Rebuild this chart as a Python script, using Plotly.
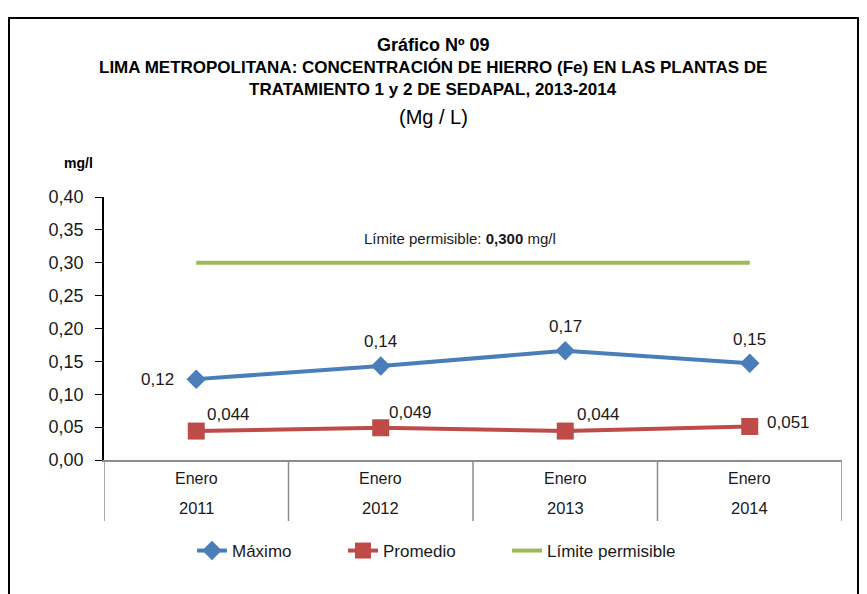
import plotly.graph_objects as go

# ---- data ----
categories = ["2011", "2012", "2013", "2014"]
month_labels = ["Enero", "Enero", "Enero", "Enero"]
maximo = [0.123, 0.143, 0.166, 0.147]
maximo_labels = ["0,12", "0,14", "0,17", "0,15"]
promedio = [0.044, 0.049, 0.044, 0.051]
promedio_labels = ["0,044", "0,049", "0,044", "0,051"]
limite = [0.300, 0.300, 0.300, 0.300]
y_ticks = [0.0, 0.05, 0.10, 0.15, 0.20, 0.25, 0.30, 0.35, 0.40]

# label offsets (pixels) relative to their points
maximo_label_shift = [(-39, 0), (0, 24), (0, 24), (0, 24)]
promedio_label_shift = [(32, 17), (30, 15), (33, 17), (39, 4)]

OFF = 8  # page body margin offset
W, H = 867 - OFF, 594 - OFF
PX0, PX1, PY0, PY1 = 104, 842, 197, 460
L, T = PX0 - OFF, PY0 - OFF
PW, PH = PX1 - PX0, PY1 - PY0
R, B = W - L - PW, H - T - PH
FONT = "Liberation Sans, Arial, sans-serif"
TXT = "#1a1a1a"

def px(x):
    return (x - PX0) / PW

def py(y):
    return (PY1 - y) / PH

xpos = list(range(len(categories)))

fig = go.Figure()
fig.add_trace(go.Scatter(
    x=xpos, y=maximo, name="Máximo", mode="lines+markers", legend="legend",
    line=dict(color="#4A7EBB", width=4),
    marker=dict(symbol="diamond", size=15, color="#4A7EBB"),
))
fig.add_trace(go.Scatter(
    x=xpos, y=promedio, name="Promedio", mode="lines+markers", legend="legend2",
    line=dict(color="#BE4B48", width=4),
    marker=dict(symbol="square", size=17, color="#BE4B48"),
))
fig.add_trace(go.Scatter(
    x=xpos, y=limite, name="Límite permisible", mode="lines", legend="legend3",
    line=dict(color="#9BBB59", width=4),
))

annotations = []
for i in xpos:
    dx, dy = maximo_label_shift[i]
    annotations.append(dict(x=i, y=maximo[i], xref="x", yref="y", text=maximo_labels[i],
                            showarrow=False, xanchor="center", yanchor="middle",
                            xshift=dx, yshift=dy, font=dict(size=17, family=FONT, color=TXT)))
    dx, dy = promedio_label_shift[i]
    annotations.append(dict(x=i, y=promedio[i], xref="x", yref="y", text=promedio_labels[i],
                            showarrow=False, xanchor="center", yanchor="middle",
                            xshift=dx, yshift=dy, font=dict(size=17, family=FONT, color=TXT)))

for i, (m, c) in enumerate(zip(month_labels, categories)):
    annotations.append(dict(x=i, y=0, xref="x", yref="paper", text=m, showarrow=False,
                            yanchor="middle", yshift=-18,
                            font=dict(size=16, family=FONT, color=TXT)))
    annotations.append(dict(x=i, y=0, xref="x", yref="paper", text=c, showarrow=False,
                            yanchor="middle", yshift=-48,
                            font=dict(size=16.5, family=FONT, color=TXT)))

title_x = px(433)
annotations += [
    dict(x=title_x, y=py(45), xref="paper", yref="paper", text="<b>Gráfico Nº 09</b>",
         yanchor="middle", showarrow=False, font=dict(size=18, family=FONT, color="black")),
    dict(x=title_x, y=py(67), xref="paper", yref="paper",
         text="<b>LIMA METROPOLITANA: CONCENTRACIÓN DE HIERRO (Fe) EN LAS PLANTAS DE</b>",
         yanchor="middle", showarrow=False, font=dict(size=17, family=FONT, color="black")),
    dict(x=title_x, y=py(90), xref="paper", yref="paper",
         text="<b>TRATAMIENTO 1 y 2 DE SEDAPAL, 2013-2014</b>",
         yanchor="middle", showarrow=False, font=dict(size=17, family=FONT, color="black")),
    dict(x=title_x, y=py(117), xref="paper", yref="paper", text="(Mg / L)",
         yanchor="middle", showarrow=False, font=dict(size=20, family=FONT, color="black")),
    dict(x=px(62), y=py(163), xref="paper", yref="paper", text="<b>mg/l</b>",
         yanchor="middle", showarrow=False, font=dict(size=14, family=FONT, color="black")),
    dict(x=px(460), y=py(238), xref="paper", yref="paper",
         text="Límite permisible: <b>0,300</b> mg/l",
         yanchor="middle", showarrow=False, font=dict(size=15, family=FONT, color=TXT)),
]

shapes = []
for b in [-0.5, 0.5, 1.5, 2.5, 3.5]:
    shapes.append(dict(type="line", xref="x", yref="paper", x0=b, x1=b,
                       y0=0, y1=py(521), line=dict(color="#8c8c8c", width=1.5)))
shapes.append(dict(type="rect", xref="paper", yref="paper",
                   x0=px(9), x1=px(858), y0=py(610), y1=py(18),
                   line=dict(color="black", width=2)))

def legend_at(xpix):
    return dict(orientation="h", x=px(xpix), y=py(551), xanchor="left", yanchor="middle",
                font=dict(size=17, family=FONT, color=TXT), bgcolor="rgba(0,0,0,0)")

fig.update_layout(
    width=W, height=H,
    margin=dict(l=L, r=R, t=T, b=B, autoexpand=False),
    paper_bgcolor="white", plot_bgcolor="white",
    separators=",.",
    font=dict(family=FONT, size=17, color=TXT),
    showlegend=True,
    legend=legend_at(192),
    legend2=legend_at(343),
    legend3=legend_at(507),
    annotations=annotations,
    shapes=shapes,
    xaxis=dict(range=[-0.5, 3.5], showticklabels=False, showgrid=False, zeroline=False,
               showline=True, linecolor="#8c8c8c", linewidth=1.5, ticks=""),
    yaxis=dict(range=[0, 0.40], tickvals=y_ticks, tickformat=".2f", showgrid=False,
               zeroline=False, showline=True, linecolor="black", linewidth=1.5,
               ticks="outside", ticklen=7, tickcolor="black", ticklabelstandoff=8,
               tickfont=dict(size=18, family=FONT, color=TXT)),
)

fig.write_html("out.html")
